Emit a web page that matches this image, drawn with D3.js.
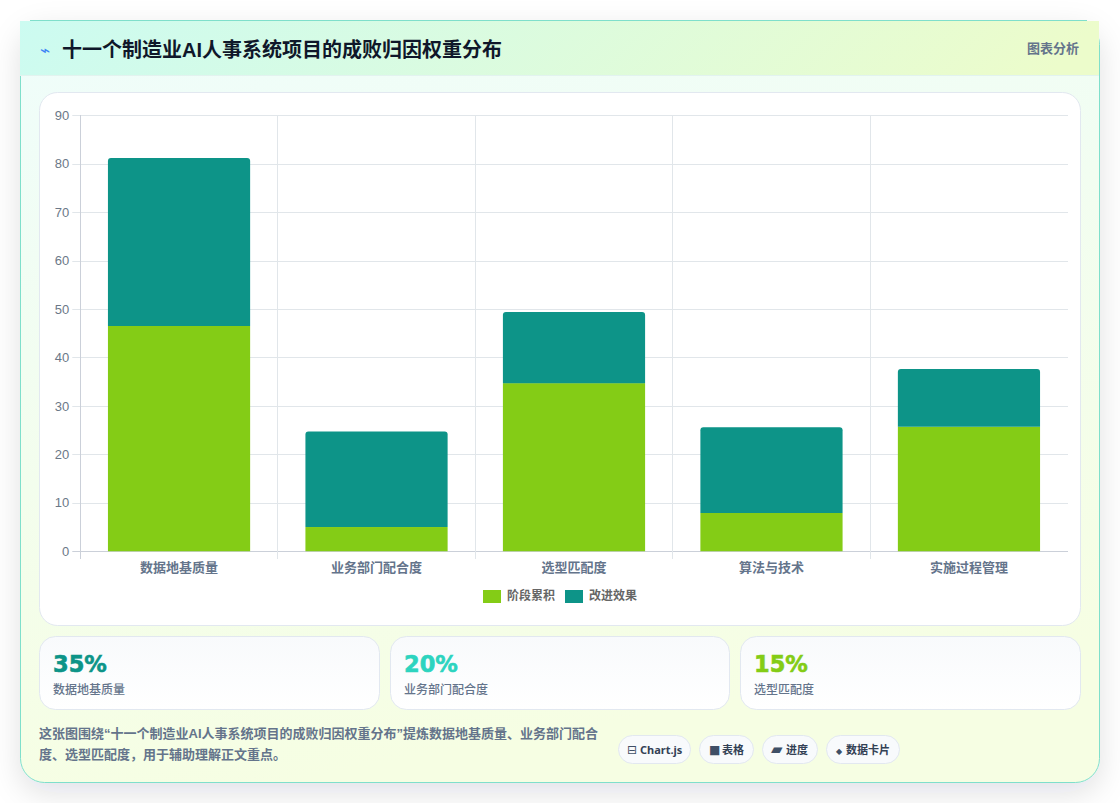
<!DOCTYPE html>
<html lang="zh-CN">
<head>
<meta charset="utf-8">
<title>十一个制造业AI人事系统项目的成败归因权重分布</title>
<script src="https://cdn.jsdelivr.net/npm/d3@7/dist/d3.min.js"></script>
<style>
  html, body { margin: 0; padding: 0; width: 1120px; height: 804px; overflow: hidden; background: #fff; }
  svg { display: block; }
  text { font-family: "Liberation Sans", "Noto Sans CJK SC", sans-serif; }
</style>
</head>
<body>
<div id="chart"></div>
<script>
const categories = ["数据地基质量", "业务部门配合度", "选型匹配度", "算法与技术", "实施过程管理"];
const stageValues = [46.5, 5, 34.7, 7.9, 25.7];
const improveValues = [34.7, 19.7, 14.7, 17.7, 11.9];
const seriesNames = ["阶段累积", "改进效果"];
const seriesColors = ["#84cc16", "#0d9488"];
const yTicks = [0, 10, 20, 30, 40, 50, 60, 70, 80, 90];

const statValues = ["35%", "20%", "15%"];
const statLabels = ["数据地基质量", "业务部门配合度", "选型匹配度"];
const statColors = ["#0d9488", "#2dd4bf", "#84cc16"];

const titleText = "十一个制造业AI人事系统项目的成败归因权重分布";
const noteLines = [
  "这张图围绕“十一个制造业AI人事系统项目的成败归因权重分布”提炼数据地基质量、业务部门配合",
  "度、选型匹配度，用于辅助理解正文重点。"
];
const chipIcons = ["⊟", "■", "▰", "◆"];
const chipLabels = ["Chart.js", "表格", "进度", "数据卡片"];

const svg = d3.select("#chart").append("svg").attr("width", 1120).attr("height", 804);
const defs = svg.append("defs");

function linearGradient(id, stops, x2, y2) {
  const g = defs.append("linearGradient").attr("id", id)
    .attr("x1", 0).attr("y1", 0).attr("x2", x2).attr("y2", y2);
  stops.forEach(([o, c]) => g.append("stop").attr("offset", o).attr("stop-color", c));
}
linearGradient("cardBg", [[0, "#effdfb"], [1, "#f6fee3"]], 0.25, 1);
linearGradient("headBg", [[0, "#ccfbf1"], [1, "#ecfccb"]], 1, 0.05);
linearGradient("statBg", [[0, "#f8fafc"], [1, "#ffffff"]], 0, 1);

const shadow = defs.append("filter").attr("id", "cardShadow")
  .attr("x", "-10%").attr("y", "-10%").attr("width", "120%").attr("height", "125%");
shadow.append("feDropShadow").attr("dx", 0).attr("dy", 10).attr("stdDeviation", 15)
  .attr("flood-color", "#0f172a").attr("flood-opacity", 0.12);

// Outer card with its tinted header band
svg.append("rect").attr("x", 20.5).attr("y", 20.5).attr("width", 1079).attr("height", 762)
  .attr("rx", 24).attr("fill", "url(#cardBg)").attr("stroke", "#7fdfcb")
  .attr("filter", "url(#cardShadow)");
svg.append("rect").attr("x", 20).attr("y", 21).attr("width", 1079).attr("height", 54)
  .attr("fill", "url(#headBg)");
svg.append("line").attr("x1", 30).attr("x2", 1087).attr("y1", 20.5).attr("y2", 20.5).attr("stroke", "#7fdfcb");
svg.append("line").attr("x1", 20).attr("x2", 1099).attr("y1", 75.5).attr("y2", 75.5).attr("stroke", "#e2f3ef");
svg.append("rect").attr("x", 0).attr("y", 803).attr("width", 1120).attr("height", 1).attr("fill", "#fff");

svg.append("text").attr("x", 40).attr("y", 56).attr("font-size", 17).attr("fill", "#3b82f6").text("⌁");
svg.append("text").attr("x", 62).attr("y", 57).attr("font-size", 20).attr("font-weight", 700)
  .attr("fill", "#0f172a").text(titleText);
svg.append("text").attr("x", 1079).attr("y", 53).attr("text-anchor", "end").attr("font-size", 13)
  .attr("font-weight", 700).attr("fill", "#64748b").text("图表分析");

// Chart panel
svg.append("rect").attr("x", 39.5).attr("y", 92.5).attr("width", 1041).attr("height", 533)
  .attr("rx", 18).attr("fill", "#fff").attr("stroke", "#e2e8f0");

const plot = { left: 80.3, right: 1067.7, top: 115.25, bottom: 551.25 };
const x = d3.scaleBand().domain(categories).range([plot.left, plot.right]).paddingInner(0).paddingOuter(0);
const y = d3.scaleLinear().domain([0, 90]).range([plot.bottom, plot.top]);

// Gridlines snapped to whole pixels
const snapX = v => Math.floor(v) + 0.5;
const snapY = v => Math.round(v) + 0.5;
const grid = svg.append("g");
grid.selectAll(".h").data(yTicks).join("line")
  .attr("x1", plot.left - 8).attr("x2", 1068)
  .attr("y1", d => snapY(y(d))).attr("y2", d => snapY(y(d)))
  .attr("stroke", d => d === 0 ? "#cbd0d9" : "#e1e6ea");
const xEdges = categories.map(c => x(c));
grid.selectAll(".v").data(xEdges).join("line")
  .attr("x1", snapX).attr("x2", snapX)
  .attr("y1", 115).attr("y2", 559)
  .attr("stroke", (d, i) => i === 0 ? "#cbd0d9" : "#e1e6ea");

const yAxis = d3.axisLeft(y).tickValues(yTicks).tickSize(0).tickPadding(11);
const yG = svg.append("g").attr("transform", `translate(${plot.left},0)`).call(yAxis);
yG.select(".domain").remove();
yG.selectAll("text").attr("font-size", 13).attr("fill", "#6b7888");

const xAxis = d3.axisBottom(x).tickSize(0).tickPadding(12);
const xG = svg.append("g").attr("transform", `translate(0,551)`).call(xAxis);
xG.select(".domain").remove();
xG.selectAll("text").attr("font-size", 13).attr("font-weight", 700).attr("fill", "#64748b");

// Stacked bars, lower series first
const barWidth = x.bandwidth() * 0.72;
const barX = c => x(c) + (x.bandwidth() - barWidth) / 2;
const bars = svg.append("g");
bars.selectAll(".stage").data(categories).join("rect")
  .attr("x", barX).attr("width", barWidth)
  .attr("y", (c, i) => y(stageValues[i]))
  .attr("height", (c, i) => y(0) - y(stageValues[i]))
  .attr("fill", seriesColors[0]);
bars.selectAll(".improve").data(categories).join("path")
  .attr("d", (c, i) => {
    const top = y(stageValues[i] + improveValues[i]);
    const bottom = y(stageValues[i]);
    const l = barX(c), r = l + barWidth, k = 3;
    return `M${l},${bottom}V${top + k}Q${l},${top} ${l + k},${top}H${r - k}Q${r},${top} ${r},${top + k}V${bottom}Z`;
  })
  .attr("fill", seriesColors[1]);

// Legend
const legendX = [483, 565];
const legend = svg.append("g").selectAll("g").data(seriesNames).join("g")
  .attr("transform", (d, i) => `translate(${legendX[i]},590)`);
legend.append("rect").attr("width", 18).attr("height", 13).attr("fill", (d, i) => seriesColors[i]);
legend.append("text").attr("x", 24).attr("y", 10).attr("font-size", 12).attr("font-weight", 700)
  .attr("fill", "#666").text(d => d);

// Stat cards
const statX = [39.5, 390.5, 740.5];
const statW = [340, 339, 340];
const stat = svg.append("g").selectAll("g").data(statValues).join("g")
  .attr("transform", (d, i) => `translate(${statX[i]},636.5)`);
stat.append("rect").attr("width", (d, i) => statW[i]).attr("height", 73).attr("rx", 16)
  .attr("fill", "url(#statBg)").attr("stroke", "#e2e8f0");
stat.append("text").attr("x", 13.5).attr("y", 35).attr("font-size", 22.5).attr("font-weight", 700)
  .attr("fill", (d, i) => statColors[i]).attr("stroke", (d, i) => statColors[i]).attr("stroke-width", 0.6)
  .style("font-family", "'DejaVu Sans', sans-serif").text(d => d);
stat.append("text").attr("x", 13.5).attr("y", 57).attr("font-size", 12).attr("font-weight", 500)
  .attr("fill", "#64748b").text((d, i) => statLabels[i]);

// Footnote
svg.append("g").selectAll("text").data(noteLines).join("text")
  .attr("x", 39).attr("y", (d, i) => 738 + i * 21).attr("font-size", 13).attr("font-weight", 700)
  .attr("fill", "#64748b").text(d => d);

// Feature chips
const chipX = [618.5, 699.5, 762.5, 826.5];
const chipW = [72, 54, 55, 73];
const chipIconX = [8.5, 9.5, 8.5, 9.5];
const chipIconSize = [12, 12, 15, 8];
const chipTextX = [21.5, 22.5, 23.5, 19.5];
const chip = svg.append("g").selectAll("g").data(chipLabels).join("g")
  .attr("transform", (d, i) => `translate(${chipX[i]},735.5)`);
chip.append("rect").attr("width", (d, i) => chipW[i]).attr("height", 28).attr("rx", 14)
  .attr("fill", "#f8fafc").attr("stroke", "#e2e8f0");
chip.append("text").attr("x", (d, i) => chipIconX[i]).attr("y", 18.5)
  .attr("font-size", (d, i) => chipIconSize[i]).attr("fill", "#3f4f66")
  .style("font-family", "'DejaVu Sans', sans-serif").text((d, i) => chipIcons[i]);
chip.append("text").attr("x", (d, i) => chipTextX[i]).attr("y", 18).attr("font-size", 11).attr("font-weight", 700)
  .attr("fill", "#334155").style("font-family", "'Noto Sans', 'Noto Sans CJK SC', sans-serif").text(d => d);
</script>
</body>
</html>
